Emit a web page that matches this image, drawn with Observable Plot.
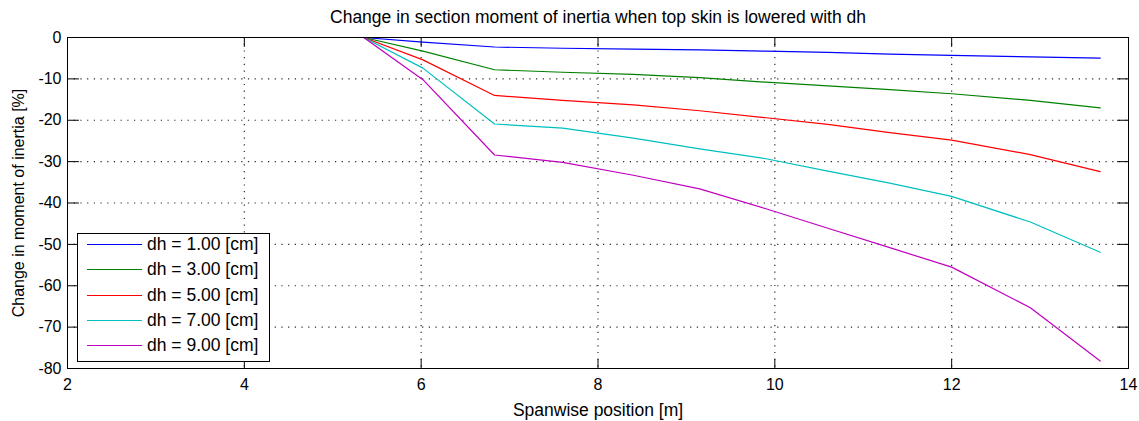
<!DOCTYPE html>
<html><head><meta charset="utf-8">
<script src="https://cdn.jsdelivr.net/npm/d3@7"></script>
<script src="https://cdn.jsdelivr.net/npm/@observablehq/plot@0.6"></script>
<style>
body{margin:0;background:#fff;}
#wrap{position:relative;width:1139px;height:421px;font-family:"Liberation Sans",Arial,sans-serif;}
#legend{position:absolute;left:77px;top:233px;width:193px;height:129px;border:1px solid #000;background:#fff;box-sizing:border-box;}
#legend .row{position:absolute;left:0;height:0;}
#legend .sw{position:absolute;left:9px;width:55px;height:0;border-top:1.4px solid;top:0;}
#legend .lab{position:absolute;left:69px;top:-10px;font-size:17.5px;line-height:20px;white-space:nowrap;color:#000;}
</style></head><body><div id="wrap"></div>
<script>
const spanwise = [5.35, 6.02, 6.83, 7.6, 8.4, 9.15, 9.9, 10.6, 11.3, 12.0, 12.89, 13.68];
const series = ["dh = 1.00 [cm]", "dh = 3.00 [cm]", "dh = 5.00 [cm]", "dh = 7.00 [cm]", "dh = 9.00 [cm]"];
const dh1 = [0, -1.1, -2.3, -2.6, -2.8, -3.0, -3.3, -3.6, -4.0, -4.3, -4.7, -5.0];
const dh3 = [0, -3.3, -7.8, -8.4, -8.9, -9.7, -10.8, -11.7, -12.6, -13.6, -15.2, -17.0];
const dh5 = [0, -5.4, -14.0, -15.2, -16.3, -17.7, -19.4, -21.0, -23.0, -24.8, -28.3, -32.4];
const dh7 = [0, -7.4, -20.9, -21.9, -24.3, -26.9, -29.3, -32.3, -35.2, -38.4, -44.6, -51.9];
const dh9 = [0, -10.2, -28.4, -30.2, -33.3, -36.6, -41.4, -46.1, -50.8, -55.5, -65.3, -78.2];
const colors = ["#0000ff", "#008000", "#ff0000", "#00bfbf", "#bf00bf"];
const xTicks = [2, 4, 6, 8, 10, 12, 14];
const yTicks = [0, -10, -20, -30, -40, -50, -60, -70, -80];
const title = "Change in section moment of inertia when top skin is lowered with dh";
const xLabel = "Spanwise position [m]";
const yLabel = "Change in moment of inertia [%]";

const allSeries = [dh1, dh3, dh5, dh7, dh9];
const rows = [];
allSeries.forEach((vals, k) => vals.forEach((v, i) => rows.push({x: spanwise[i], y: v, s: series[k]})));

const xDom = [xTicks[0], xTicks[xTicks.length - 1]];
const yDom = [yTicks[yTicks.length - 1], yTicks[0]];
const tickShape = {draw(ctx, l) { ctx.moveTo(0, 0); ctx.lineTo(0, -l); }};
const font = "'Liberation Sans', Arial, sans-serif";

const plot = Plot.plot({
  width: 1139, height: 421,
  marginLeft: 67, marginRight: 11, marginTop: 37, marginBottom: 53,
  style: {fontFamily: font, fontSize: "16px", background: "#fff", color: "#000", overflow: "visible"},
  x: {domain: xDom},
  y: {domain: yDom},
  color: {domain: series, range: colors},
  marks: [
    Plot.gridX({ticks: xTicks.slice(1, -1), stroke: "#000", strokeOpacity: 0.85, strokeWidth: 1.2, strokeDasharray: "1.2,5.5"}),
    Plot.gridY({ticks: yTicks.slice(1, -1), stroke: "#000", strokeOpacity: 0.85, strokeWidth: 1.2, strokeDasharray: "1.2,5.5"}),
    Plot.line(rows, {x: "x", y: "y", z: "s", stroke: "s", strokeWidth: 1.2}),
    Plot.frame({stroke: "#000", strokeWidth: 1}),
    Plot.axisX({ticks: xTicks, tickSize: 0, tickPadding: 10, label: null, tickFormat: d => String(d)}),
    Plot.axisY({ticks: yTicks, tickSize: 0, tickPadding: 6, label: null, tickFormat: d => String(d)}),
    Plot.vector(xTicks, {x: d => d, y: () => yDom[0], length: 9, rotate: 0, anchor: "start", shape: tickShape, stroke: "#000", strokeWidth: 1}),
    Plot.vector(xTicks, {x: d => d, y: () => yDom[1], length: 9, rotate: 180, anchor: "start", shape: tickShape, stroke: "#000", strokeWidth: 1}),
    Plot.vector(yTicks, {y: d => d, x: () => xDom[0], length: 11, rotate: 90, anchor: "start", shape: tickShape, stroke: "#000", strokeWidth: 1}),
    Plot.vector(yTicks, {y: d => d, x: () => xDom[1], length: 11, rotate: -90, anchor: "start", shape: tickShape, stroke: "#000", strokeWidth: 1}),
    Plot.text([title], {frameAnchor: "top", dy: -27, fontSize: 17.5, fill: "#000"}),
    Plot.text([xLabel], {frameAnchor: "bottom", dy: 47, fontSize: 17.5, fill: "#000"}),
    Plot.text([yLabel], {frameAnchor: "left", textAnchor: "middle", lineAnchor: "middle", dx: -49, rotate: -90, fontSize: 16, fill: "#000"})
  ]
});

const wrap = document.getElementById("wrap");
wrap.appendChild(plot);

const legend = document.createElement("div");
legend.id = "legend";
series.forEach((name, k) => {
  const row = document.createElement("div");
  row.className = "row";
  row.style.top = (10 + k * 25.3) + "px";
  const sw = document.createElement("div");
  sw.className = "sw";
  sw.style.borderTopColor = colors[k];
  const lab = document.createElement("div");
  lab.className = "lab";
  lab.textContent = name;
  row.appendChild(sw);
  row.appendChild(lab);
  legend.appendChild(row);
});
wrap.appendChild(legend);
</script>
</body></html>
